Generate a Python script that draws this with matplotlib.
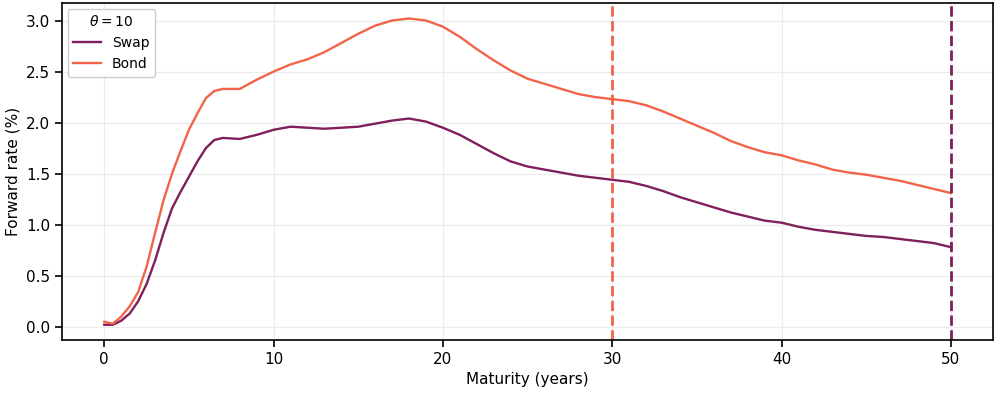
import numpy as np
import matplotlib
import matplotlib.pyplot as plt

matplotlib.use("Agg")

maturity = np.array([
    0, 0.5, 1, 1.5, 2, 2.5, 3, 3.5, 4, 4.5, 5, 5.5, 6, 6.5, 7,
    8, 9, 10, 11, 12, 13, 14, 15, 16, 17, 18, 19, 20,
    21, 22, 23, 24, 25, 26, 27, 28, 29, 30,
    31, 32, 33, 34, 35, 36, 37, 38, 39, 40,
    41, 42, 43, 44, 45, 46, 47, 48, 49, 50,
])

swap = np.array([
    0.02, 0.02, 0.06, 0.13, 0.25, 0.42, 0.65, 0.92, 1.16, 1.32, 1.47, 1.62, 1.75, 1.83, 1.85,
    1.84, 1.88, 1.93, 1.96, 1.95, 1.94, 1.95, 1.96, 1.99, 2.02, 2.04, 2.01, 1.95,
    1.88, 1.79, 1.70, 1.62, 1.57, 1.54, 1.51, 1.48, 1.46, 1.44,
    1.42, 1.38, 1.33, 1.27, 1.22, 1.17, 1.12, 1.08, 1.04, 1.02,
    0.98, 0.95, 0.93, 0.91, 0.89, 0.88, 0.86, 0.84, 0.82, 0.78,
])

bond = np.array([
    0.05, 0.03, 0.10, 0.20, 0.34, 0.59, 0.92, 1.24, 1.50, 1.72, 1.93, 2.09, 2.24, 2.31, 2.33,
    2.33, 2.42, 2.50, 2.57, 2.62, 2.69, 2.78, 2.87, 2.95, 3.00, 3.02, 3.00, 2.94,
    2.84, 2.72, 2.61, 2.51, 2.43, 2.38, 2.33, 2.28, 2.25, 2.23,
    2.21, 2.17, 2.11, 2.04, 1.97, 1.90, 1.82, 1.76, 1.71, 1.68,
    1.63, 1.59, 1.54, 1.51, 1.49, 1.46, 1.43, 1.39, 1.35, 1.31,
])

bond_llp = 30
swap_llp = 50

c_swap = "#7f1f5b"
c_bond = "#f2644a"

plt.rcParams["font.size"] = 11

fig = plt.figure(figsize=(9.96, 3.95), dpi=100)
ax = fig.add_axes([0.0622, 0.139, 0.935, 0.853])

ax.plot(maturity, swap, color=c_swap, lw=1.7, label="Swap")
ax.plot(maturity, bond, color=c_bond, lw=1.7, label="Bond")
ax.axvline(bond_llp, color=c_bond, lw=2, ls="--")
ax.axvline(swap_llp, color=c_swap, lw=2, ls="--")

ax.set_xlabel("Maturity (years)")
ax.set_ylabel("Forward rate (%)")
ax.set_xticks([0, 10, 20, 30, 40, 50])
ax.set_yticks([0.0, 0.5, 1.0, 1.5, 2.0, 2.5, 3.0])
ax.set_xlim(-2.5, 52.5)
ax.set_ylim(-0.13, 3.17)
ax.grid(color="#ebebeb", lw=0.8)
ax.set_axisbelow(True)
for s in ax.spines.values():
    s.set_linewidth(1.2)
    s.set_color("black")
ax.tick_params(width=1.2, length=5)

leg = ax.legend(title=r"$\theta = 10$", loc="upper left", fontsize=10,
                title_fontsize=10, edgecolor="#cccccc", framealpha=1,
                borderaxespad=0.4)

fig.savefig("out.png", dpi=100)
